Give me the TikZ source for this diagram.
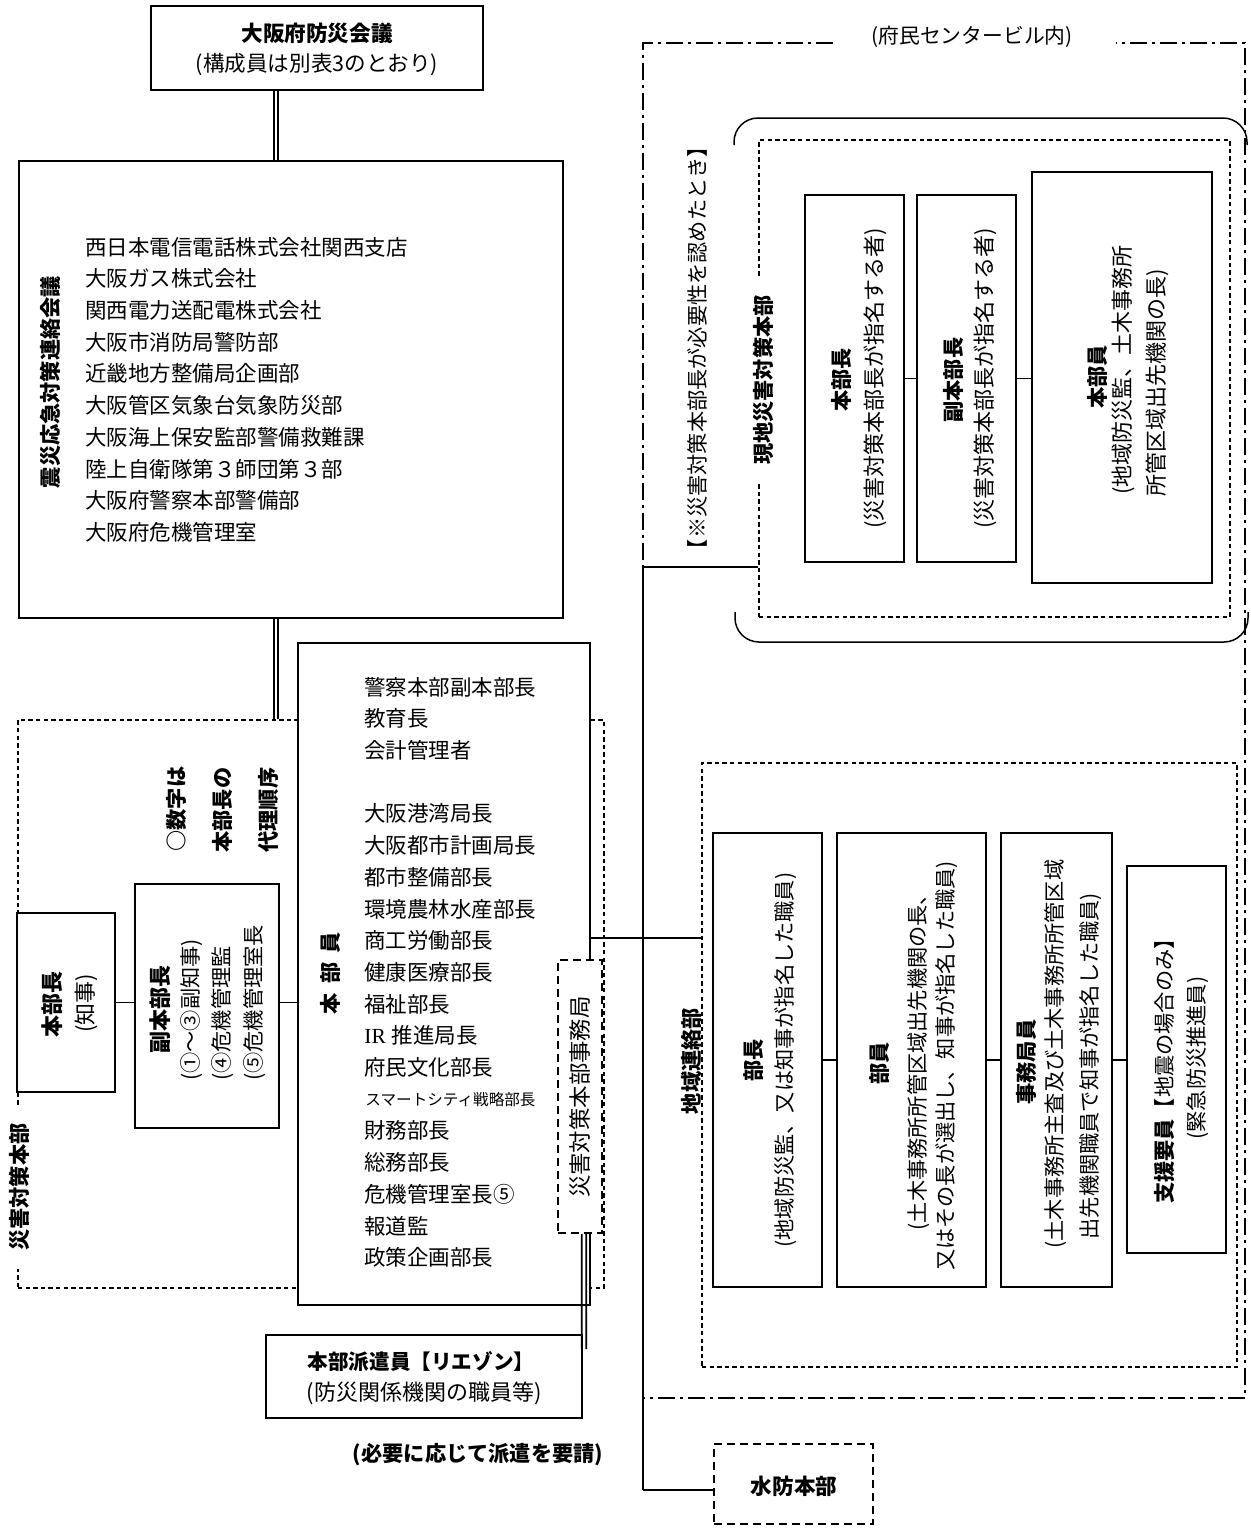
\documentclass[tikz,border=0pt]{standalone}
\usepackage{fontspec}
\usetikzlibrary{calc,fit}
\newfontfamily\jp{Noto Sans CJK JP}
\newfontfamily\lat{Liberation Serif}
\newcommand\fsz[1]{\fontsize{#1}{#1}\selectfont}
\begin{document}
\begin{tikzpicture}[x=0.5pt,y=-0.5pt,
  box/.style={draw, line width=1pt, fill=white, inner sep=0pt},
  thindash/.style={draw, line width=0.6pt, dash pattern=on 2.2pt off 1.6pt, inner sep=0pt},
  thickdash/.style={draw, line width=1pt, dash pattern=on 4pt off 2.5pt, fill=white, inner sep=0pt},
  ddot/.style={line width=1pt, dash pattern=on 8.5pt off 2.5pt on 1.5pt off 2.5pt},
  conn/.style={line width=0.75pt},
  dline/.style={line width=0.9pt},
  txt/.style={inner sep=0pt, font=\jp\fsz{10.6pt}},
  btxt/.style={inner sep=0pt, font=\jp\bfseries\fsz{10.6pt}},
]
\useasboundingbox (0,0) rectangle (1250,1528);
\fill[white] (0,0) rectangle (1250,1528);

% ---------- outer dash-dot frame ----------
\node[txt, font=\jp\fsz{10.4pt}] (fumin) at (972,37) {(府民センタービル内)};
\coordinate (f1) at (833,43);
\coordinate (f2) at (1116,43);
\draw[ddot] (f1) -- (643,43) -- (643,1398) -- (1245,1398) -- (1245,43) -- (f2);

% ---------- top box ----------
\node[box, fit={(151,6) (483,90)}] (T) {};
\node[btxt, font=\jp\bfseries\fsz{10.8pt}] (Tt) at (317,33) {大阪府防災会議};
\node[txt, font=\jp\fsz{10.8pt}] (Ts) at (317,65) {(構成員は別表3のとおり)};

% ---------- 震災応急対策連絡会議 ----------
\node[box, fit={(19,161) (563,618)}] (R) {};
\node[btxt, rotate=90] (Rt) at (50,382) {震災応急対策連絡会議};
\foreach \i/\t in {0/西日本電信電話株式会社関西支店,1/大阪ガス株式会社,2/関西電力送配電株式会社,3/大阪市消防局警防部,4/近畿地方整備局企画部,5/大阪管区気象台気象防災部,6/大阪海上保安監部警備救難課,7/陸上自衛隊第３師団第３部,8/大阪府警察本部警備部,9/大阪府危機管理室}
  {\node[txt, anchor=west, font=\jp\fsz{10.75pt}] (r\i) at (85,247+31.7*\i) {\t};}

\coordinate (cx1) at (276,0);
\draw[dline] ([xshift=-1pt]T.south -| cx1) -- ([xshift=-1pt]R.north -| cx1);
\draw[dline] ([xshift=1pt]T.south -| cx1) -- ([xshift=1pt]R.north -| cx1);

% ---------- 災害対策本部 ----------
\node[thindash, fit={(18,720) (604,1288)}] (HQ) {};
\draw[dline] ([xshift=-1pt]R.south -| cx1) -- ([xshift=-1pt]HQ.north -| cx1);
\draw[dline] ([xshift=1pt]R.south -| cx1) -- ([xshift=1pt]HQ.north -| cx1);
\node[btxt, rotate=90, fill=white, inner xsep=9pt, inner ysep=2pt] (HQl) at (19,1187) {災害対策本部};

\node[box, fit={(17,913) (115,1092)}] (HB) {};
\node[btxt, rotate=90, font=\jp\bfseries\fsz{11pt}] (HBt) at (52,1004) {本部長};
\node[txt, rotate=90, font=\jp\fsz{11pt}] (HBs) at (86,1003) {(知事)};

\node[box, fit={(135,884) (279,1128)}] (VB) {};
\node[btxt, rotate=90, font=\jp\bfseries\fsz{11pt}] (VBt) at (160,1009) {副本部長};
\node[txt, rotate=90, anchor=west] (VB1) at (192,1081) {(①～③副知事)};
\node[txt, rotate=90, anchor=west] (VB2) at (223,1081) {(④危機管理監};
\node[txt, rotate=90, anchor=west] (VB3) at (255,1081) {(⑤危機管理室長};

\node[btxt, rotate=90] (o1) at (176,809) {○数字は};
\node[btxt, rotate=90] (o2) at (222,810) {本部長の};
\node[btxt, rotate=90] (o3) at (268,810) {代理順序};

\node[box, fit={(298,643) (590,1305)}] (MB) {};
\node[btxt, rotate=90] (MBt) at (330,973) {本\hspace{4.7pt}部\hspace{4.7pt}員};
\foreach \i/\t in {0/警察本部副本部長,1/教育長,2/会計管理者,4/大阪港湾局長,5/大阪都市計画局長,6/都市整備部長,7/環境農林水産部長,8/商工労働部長,9/健康医療部長,10/福祉部長,12/府民文化部長,14/財務部長,15/総務部長,16/危機管理室長⑤,17/報道監,18/政策企画部長}
  {\node[txt, anchor=west, font=\jp\fsz{10.75pt}] (m\i) at (364,687+31.7*\i) {\t};}
\node[txt, anchor=west, font=\jp\fsz{10.75pt}] (m11) at (364,687+31.7*11) {{\lat IR}\hspace{3pt}推進局長};
\node[txt, anchor=west, font=\jp\fsz{7.8pt}] (m13) at (365,687+31.7*13) {スマートシティ戦略部長};

\draw[conn] (HB.east) -- (HB.east -| VB.west);
\draw[conn] (VB.east |- HB.east) -- (MB.west |- HB.east);

\node[thickdash, fit={(558,960) (602,1233)}] (SEC) {};
\node[txt, rotate=90, font=\jp\fsz{11.2pt}] (SECt) at (580,1097) {災害対策本部事務局};

\node[box, fit={(266,1335) (582,1418)}] (LB) {};
\coordinate (cx3) at (584,0);
\draw[dline] ([xshift=-1.1pt]SEC.south -| cx3) -- ($(LB.north -| cx3)+(-2.2,15)$);
\draw[dline] ([xshift=1.1pt]SEC.south -| cx3) -- ($(LB.north -| cx3)+(2.2,15)$);
\node[btxt, font=\jp\bfseries\fsz{10.3pt}] (LBt) at (421,1362) {本部派遣員【リエゾン】};
\node[txt, font=\jp\fsz{11pt}] (LBs) at (424,1393) {(防災関係機関の職員等)};
\node[btxt, font=\jp\bfseries\fsz{10.6pt}] (req) at (478,1455) {(必要に応じて派遣を要請)};

% ---------- 現地災害対策本部 ----------
\node[txt, rotate=90] (cond) at (697,348) {【※災害対策本部長が必要性を認めたとき】};
\draw[line width=0.75pt, rounded corners=12pt] (734,145) -- (734,118) -- (1247,118) -- (1247,145);
\draw[line width=0.75pt, rounded corners=12pt] (735,612) -- (735,642) -- (1248,642) -- (1248,612);
\node[thindash, fit={(759,140) (1230,617)}] (GD) {};
\node[btxt, rotate=90, fill=white, inner xsep=9pt, inner ysep=3pt] (GDl) at (763,380) {現地災害対策本部};

\node[box, fit={(805,195) (904,562)}] (G1) {};
\node[btxt, rotate=90] (G1t) at (841,380) {本部長};
\node[txt, rotate=90, font=\jp\fsz{11pt}] (G1s) at (875,378) {(災害対策本部長が指名する者)};
\node[box, fit={(917,195) (1016,562)}] (G2) {};
\node[btxt, rotate=90] (G2t) at (953,380) {副本部長};
\node[txt, rotate=90, font=\jp\fsz{11pt}] (G2s) at (985,378) {(災害対策本部長が指名する者)};
\node[box, fit={(1032,172) (1212,583)}] (G3) {};
\node[btxt, rotate=90] (G3t) at (1097,377) {本部員};
\node[txt, rotate=90, anchor=west, font=\jp\fsz{11pt}] (G3a) at (1123,495) {(地域防災監、土木事務所};
\node[txt, rotate=90, anchor=west, font=\jp\fsz{11pt}] (G3b) at (1157,497) {所管区域出先機関の長)};
\draw[conn] (G1.east) -- (G2.west);
\draw[conn] (G2.east) -- (G3.west |- G2.east);

% ---------- 地域連絡部 ----------
\node[thindash, fit={(702,763) (1237,1367)}] (RD) {};
\node[btxt, rotate=90] (RDl) at (691,1061) {地域連絡部};
\node[box, fit={(713,833) (822,1287)}] (Q1) {};
\node[btxt, rotate=90] (Q1t) at (754,1060) {部長};
\node[txt, rotate=90] (Q1s) at (786,1060) {(地域防災監、又は知事が指名した職員)};
\node[box, fit={(837,833) (986,1287)}] (Q2) {};
\node[btxt, rotate=90] (Q2t) at (880,1063) {部員};
\node[txt, rotate=90] (Q2a) at (919,1057) {(土木事務所所管区域出先機関の長、};
\node[txt, rotate=90] (Q2b) at (947,1066) {又はその長が選出し、知事が指名した職員)};
\node[box, fit={(1001,833) (1112,1287)}] (Q3) {};
\node[btxt, rotate=90] (Q3t) at (1026,1062) {事務局員};
\node[txt, rotate=90] (Q3a) at (1056,1054) {(土木事務所主査及び土木事務所所管区域};
\node[txt, rotate=90] (Q3b) at (1091,1066) {出先機関職員で知事が指名した職員)};
\node[box, fit={(1127,866) (1226,1253)}] (Q4) {};
\node[txt, rotate=90] (Q4t) at (1164,1066) {{\bfseries 支援要員}【地震の場合のみ】};
\node[txt, rotate=90] (Q4s) at (1198,1058) {(緊急防災推進員)};
\draw[conn] (Q1.east) -- (Q2.west);
\draw[conn] (Q2.east) -- (Q3.west);
\draw[conn] (Q3.east) -- (Q4.west |- Q3.east);

% ---------- 水防本部 ----------
\node[thickdash, fit={(714,1444) (873,1524)}] (WB) {};
\node[btxt, font=\jp\bfseries\fsz{10.8pt}] (WBt) at (794,1486) {水防本部};

% ---------- bus connectors ----------
\coordinate (bt) at (643,567);
\coordinate (bm) at (643,938);
\coordinate (bb) at (643,1490);
\draw[line width=1pt] (bt) -- (bb);
\draw[conn] (bt) -- (GD.west |- bt);
\draw[conn] (bb) -- (WB.west |- bb);
\draw[conn] (MB.east |- bm) -- (RD.west |- bm);
\end{tikzpicture}
\end{document}
